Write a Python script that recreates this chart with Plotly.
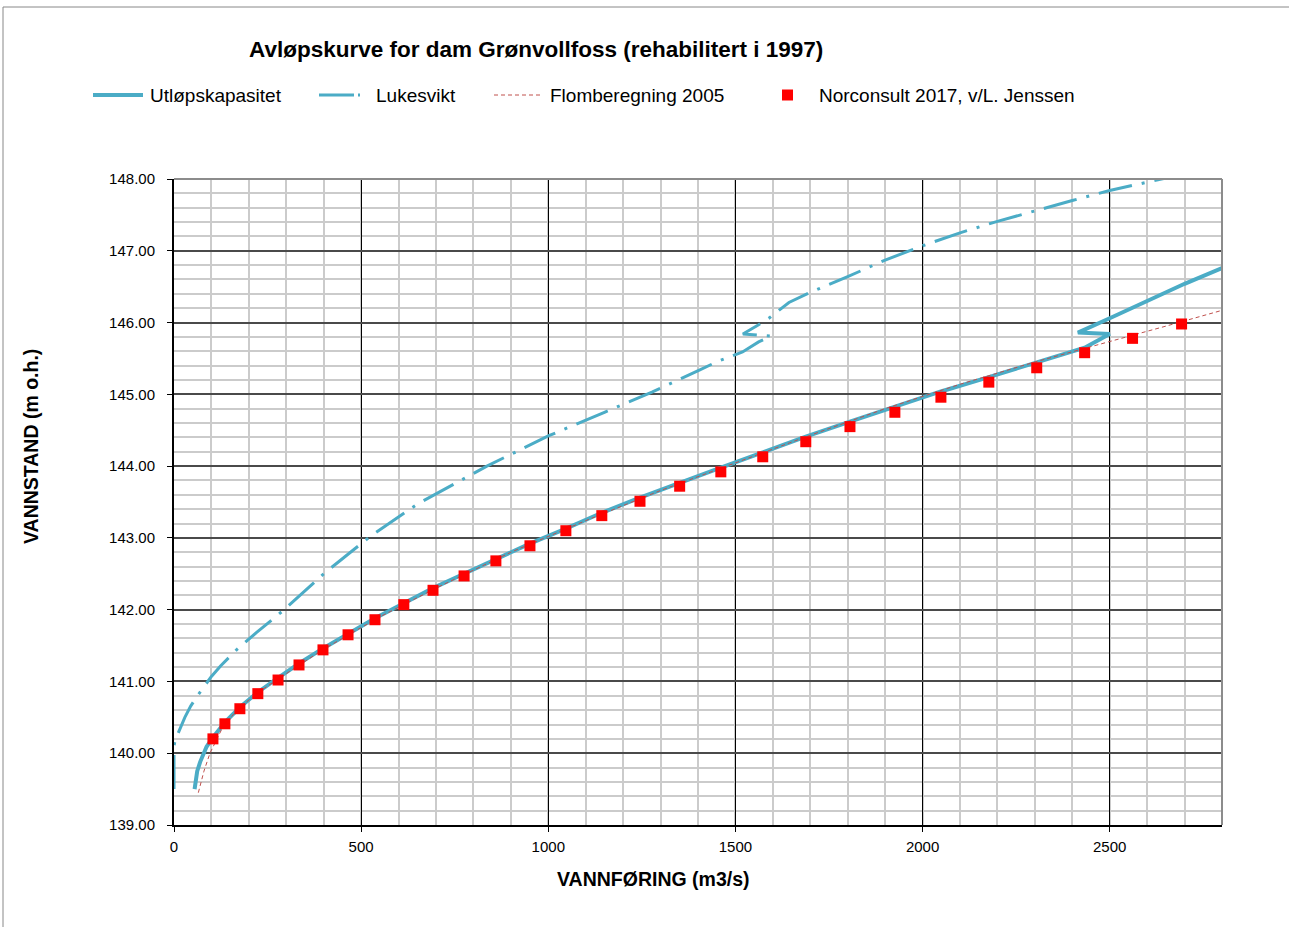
import plotly.graph_objects as go

# Rating curves for Grønvollfoss dam (discharge m3/s vs. water level m a.s.l.)
utlop_q = [55, 62, 70, 87, 104, 136, 176, 224, 278, 334, 398, 465, 537, 614, 692,
           775, 860, 951, 1047, 1143, 1245, 1351, 1461, 1573, 1688, 1806, 1926,
           2049, 2177, 2305, 2433, 2500, 2415, 2500, 2600, 2700, 2800]
utlop_h = [139.5, 139.75, 139.88, 140.09, 140.22, 140.43, 140.64, 140.85, 141.05,
           141.25, 141.46, 141.67, 141.88, 142.09, 142.3, 142.5, 142.71, 142.92,
           143.13, 143.35, 143.56, 143.77, 143.98, 144.19, 144.41, 144.62, 144.83,
           145.04, 145.24, 145.45, 145.65, 145.84, 145.86, 146.06, 146.3, 146.54, 146.76]

lukes_q = [0, 0, 3, 29, 45, 64, 100, 125, 167, 220, 290, 400, 524, 650, 836, 1000,
           1150, 1277, 1405, 1453, 1519, 1562, 1595, 1520, 1562, 1592, 1643, 1700,
           1800, 1900, 2000, 2100, 2200, 2300, 2400, 2500, 2600, 2700]
lukes_h = [139.5, 140.1, 140.18, 140.5, 140.66, 140.81, 141.07, 141.22, 141.44,
           141.68, 141.98, 142.5, 143.02, 143.47, 144.0, 144.42, 144.75, 145.03,
           145.34, 145.46, 145.59, 145.73, 145.81, 145.84, 145.97, 146.07, 146.28,
           146.42, 146.64, 146.87, 147.07, 147.25, 147.41, 147.56, 147.7, 147.84,
           147.96, 148.07]

flom_q = [65, 80, 96, 131, 168, 220, 280, 400, 550, 700, 900, 1100, 1300, 1500,
          1700, 1900, 2100, 2300, 2500, 2650, 2800]
flom_h = [139.45, 139.75, 140.0, 140.37, 140.6, 140.83, 141.04, 141.45, 141.9, 142.3,
          142.8, 143.24, 143.66, 144.05, 144.43, 144.8, 145.14, 145.45, 145.73,
          145.95, 146.17]

norc_q = [104, 136, 176, 224, 278, 334, 398, 465, 537, 614, 692, 775, 860, 951,
          1047, 1143, 1245, 1351, 1461, 1573, 1688, 1806, 1926, 2049, 2177, 2305,
          2433, 2561, 2692]
norc_h = [140.20, 140.41, 140.62, 140.83, 141.02, 141.23, 141.44, 141.65, 141.86,
          142.07, 142.27, 142.47, 142.68, 142.89, 143.10, 143.31, 143.51, 143.72,
          143.92, 144.13, 144.34, 144.55, 144.75, 144.96, 145.17, 145.37, 145.58,
          145.78, 145.98]

x_ticks = [0, 500, 1000, 1500, 2000, 2500]
y_ticks = [139, 140, 141, 142, 143, 144, 145, 146, 147, 148]

BLUE = "#4BACC6"
RED_LINE = "#C0504D"
RED = "#FF0000"
FONT = "Liberation Sans, Arial, sans-serif"

W, H = 1289, 927
L, R, T, B = 174, 1222, 179, 825


def px(x):
    return (x - L) / (R - L)


def py(y):
    return (B - y) / (B - T)


fig = go.Figure()
fig.add_trace(go.Scatter(x=utlop_q, y=utlop_h, mode="lines", name="Utløpskapasitet",
                         line=dict(color=BLUE, width=4)))
fig.add_trace(go.Scatter(x=lukes_q, y=lukes_h, mode="lines", name="Lukesvikt",
                         line=dict(color=BLUE, width=3, dash="34px,10px,3px,10px")))
fig.add_trace(go.Scatter(x=flom_q, y=flom_h, mode="lines", name="Flomberegning 2005",
                         line=dict(color=RED_LINE, width=1, dash="4px,3px")))
fig.add_trace(go.Scatter(x=norc_q, y=norc_h, mode="markers",
                         name="Norconsult 2017, v/L. Jenssen",
                         marker=dict(symbol="square", size=11, color=RED)))

shapes = [
    # outer frame (top and left edges)
    dict(type="line", xref="paper", yref="paper", x0=px(3), x1=px(1300), y0=py(7), y1=py(7),
         line=dict(color="#888888", width=1)),
    dict(type="line", xref="paper", yref="paper", x0=px(3), x1=px(3), y0=py(7), y1=py(940),
         line=dict(color="#888888", width=1)),
    # plot area top and right edges
    dict(type="line", xref="paper", yref="paper", x0=0, x1=1, y0=1, y1=1,
         line=dict(color="#8c8c8c", width=2)),
    dict(type="line", xref="paper", yref="paper", x0=1, x1=1, y0=0, y1=1,
         line=dict(color="#8c8c8c", width=2)),
    # legend samples
    dict(type="line", xref="paper", yref="paper", x0=px(93), x1=px(143), y0=py(95), y1=py(95),
         line=dict(color=BLUE, width=4)),
    dict(type="line", xref="paper", yref="paper", x0=px(319), x1=px(354), y0=py(95), y1=py(95),
         line=dict(color=BLUE, width=3)),
    dict(type="line", xref="paper", yref="paper", x0=px(358), x1=px(360), y0=py(95), y1=py(95),
         line=dict(color=BLUE, width=3)),
    dict(type="line", xref="paper", yref="paper", x0=px(494), x1=px(540), y0=py(95), y1=py(95),
         line=dict(color=RED_LINE, width=1, dash="4px,3px")),
    dict(type="rect", xref="paper", yref="paper", x0=px(782), x1=px(793), y0=py(89.5), y1=py(100.5),
         line=dict(width=0), fillcolor=RED),
]

annotations = [
    dict(text="<b>Avløpskurve for dam Grønvollfoss (rehabilitert i 1997)</b>",
         x=px(536), y=py(50), xref="paper", yref="paper", showarrow=False,
         font=dict(size=22.5, color="#000000", family=FONT), xanchor="center", yanchor="middle"),
    dict(text="<b>VANNSTAND (m o.h.)</b>", x=px(31), y=py(447), xref="paper", yref="paper",
         showarrow=False, textangle=-90, xanchor="center", yanchor="middle",
         font=dict(size=19.5, color="#000000", family=FONT)),
    dict(text="<b>VANNFØRING (m3/s)</b>", x=px(653), y=py(879), xref="paper", yref="paper",
         showarrow=False, xanchor="center", yanchor="middle",
         font=dict(size=19.5, color="#000000", family=FONT)),
]
for label, xpos in [("Utløpskapasitet", 148), ("Lukesvikt", 374),
                    ("Flomberegning 2005", 548), ("Norconsult 2017, v/L. Jenssen", 817)]:
    annotations.append(dict(text=label, x=px(xpos), y=py(95), xref="paper", yref="paper",
                            showarrow=False, xanchor="left", yanchor="middle",
                            font=dict(size=19, color="#000000", family=FONT)))

fig.update_layout(
    width=W, height=H,
    margin=dict(l=L, r=W - R, t=T, b=H - B),
    paper_bgcolor="white", plot_bgcolor="white",
    showlegend=False,
    font=dict(family=FONT, color="#000000"),
    shapes=shapes,
    annotations=annotations,
)

fig.update_xaxes(
    range=[0, 2800], tickvals=x_ticks, ticktext=[str(v) for v in x_ticks],
    showline=True, linecolor="#000000", linewidth=2,
    ticks="outside", ticklen=5, tickcolor="#000000", tickwidth=1,
    showgrid=True, gridcolor="#000000", gridwidth=1,
    minor=dict(dtick=100, showgrid=True, gridcolor="#CBCBCB", gridwidth=1.5),
    tickfont=dict(size=15), zeroline=False, ticklabelstandoff=2,
)
fig.update_yaxes(
    range=[139, 148], tickvals=y_ticks, ticktext=[f"{v:.2f}" for v in y_ticks],
    showline=True, linecolor="#000000", linewidth=2,
    ticks="outside", ticklen=5, tickcolor="#000000", tickwidth=1,
    showgrid=True, gridcolor="#4a4a4a", gridwidth=1.5,
    minor=dict(dtick=0.2, showgrid=True, gridcolor="#CBCBCB", gridwidth=1.5),
    tickfont=dict(size=15), zeroline=False, ticklabelstandoff=9,
)

fig.write_html("out.html")
